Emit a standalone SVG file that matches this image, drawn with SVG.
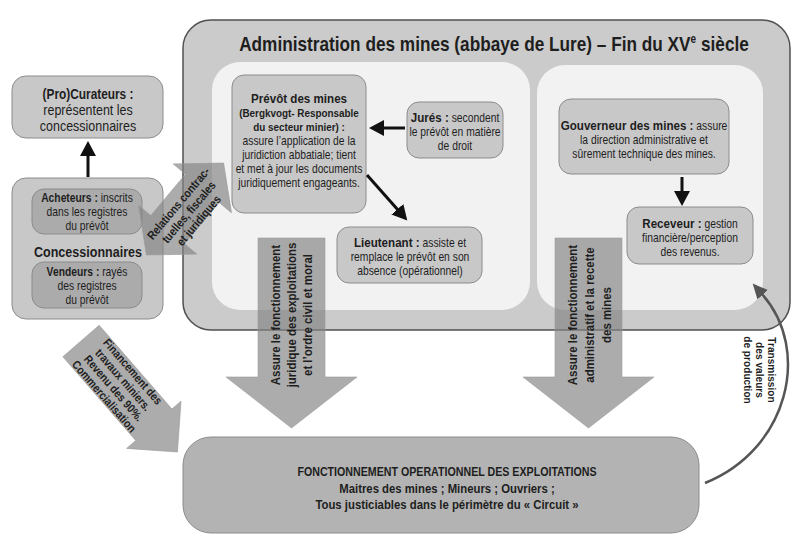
<svg xmlns="http://www.w3.org/2000/svg" width="800" height="550" viewBox="0 0 800 550">
<style>
text{font-family:"Liberation Sans",Arial,sans-serif;fill:#1e1e1e;text-anchor:middle}
.b{font-weight:bold}
.t{font-size:12px}
.h{font-size:13.5px;font-weight:bold}
.s{font-size:11.5px;font-weight:bold}
.node{fill:#c8c8c8;stroke:#8c8c8c;stroke-width:1}
.dark{fill:#ababab;stroke:#8c8c8c;stroke-width:1}
.blk{stroke:#111;stroke-width:3;fill:none}
.barrow{fill:#848484;fill-opacity:0.68;stroke:#9a9a9a;stroke-width:0.6}
.at{font-size:13.3px;font-weight:bold}
</style>
<defs>
<marker id="mb" markerUnits="userSpaceOnUse" markerWidth="16" markerHeight="18" refX="1" refY="8" orient="auto">
<path d="M0,0 L15,8 L0,16 z" fill="#111"/>
</marker>
<marker id="mg" markerUnits="userSpaceOnUse" markerWidth="16" markerHeight="16" refX="1" refY="7" orient="auto">
<path d="M0,0 L15,7 L0,14 z" fill="#555"/>
</marker>
</defs>
<rect width="800" height="550" fill="#ffffff"/>

<g id="administration">
<rect x="183" y="20" width="607" height="310" rx="28" fill="#cbcbcb" stroke="#505050" stroke-width="1.5"/>
<g transform="translate(494,0) scale(0.84,1)">
<text x="0" y="51" class="b" style="font-size:20.5px">Administration des mines (abbaye de Lure) – Fin du XV<tspan dy="-8" style="font-size:12px">e</tspan><tspan dy="8"> siècle</tspan></text>
</g>
<rect x="212" y="62" width="318" height="248" rx="28" fill="#f2f2f2"/>
<rect x="537" y="65" width="226" height="245" rx="28" fill="#f2f2f2"/>
</g>

<g id="curateurs">
<rect x="12" y="76" width="151" height="62" rx="14" class="node" fill="#d0d0d0"/>
<g transform="translate(88,0) scale(0.86,1)">
<text x="0" y="99" style="font-size:13.8px" class="b">(Pro)Curateurs :</text>
<text x="0" y="115" style="font-size:14.5px">représentent les</text>
<text x="0" y="131" style="font-size:14.5px">concessionnaires</text>
</g>
</g>

<g id="concessionnaires">
<rect x="12" y="178" width="151" height="141" rx="14" class="node" fill="#cdcdcd"/>
<g transform="translate(88,0) scale(0.86,1)">
<text x="0" y="257" class="b" style="font-size:14.6px">Concessionnaires</text>
</g>
</g>
<g id="acheteurs">
<rect x="32" y="189" width="110" height="45" rx="12" class="dark"/>
<g transform="translate(87,0) scale(0.86,1)">
<text x="0" y="202" class="t"><tspan class="b">Acheteurs :</tspan> inscrits</text>
<text x="0" y="216" class="t">dans les registres</text>
<text x="0" y="230" class="t">du prévôt</text>
</g>
</g>
<g id="vendeurs">
<rect x="32" y="262" width="110" height="46" rx="12" class="dark"/>
<g transform="translate(87,0) scale(0.86,1)">
<text x="0" y="276" class="t"><tspan class="b">Vendeurs :</tspan> rayés</text>
<text x="0" y="290" class="t">des registres</text>
<text x="0" y="304" class="t">du prévôt</text>
</g>
</g>

<g id="prevot">
<rect x="232" y="75" width="134" height="138" rx="12" class="node"/>
<g transform="translate(299,0) scale(0.86,1)">
<text x="0" y="103" class="h">Prévôt des mines</text>
<text x="0" y="117" class="s">(Bergkvogt- Responsable</text>
<text x="0" y="131" class="s">du secteur minier) :</text>
<text x="0" y="145" class="t">assure l’application de la</text>
<text x="0" y="159" class="t">juridiction abbatiale; tient</text>
<text x="0" y="173" class="t">et met à jour les documents</text>
<text x="0" y="187" class="t">juridiquement engageants.</text>
</g>
</g>

<g id="jures">
<rect x="407" y="102" width="96" height="56" rx="12" class="node"/>
<g transform="translate(455,0) scale(0.86,1)">
<text x="0" y="122" class="t"><tspan class="b" style="font-size:13.5px">Jurés :</tspan> secondent</text>
<text x="0" y="136" class="t">le prévôt en matière</text>
<text x="0" y="150" class="t">de droit</text>
</g>
</g>

<g id="lieutenant">
<rect x="337" y="227" width="145" height="56" rx="12" class="node"/>
<g transform="translate(410,0) scale(0.86,1)">
<text x="0" y="247" class="t"><tspan class="b" style="font-size:13.5px">Lieutenant :</tspan> assiste et</text>
<text x="0" y="261" class="t">remplace le prévôt en son</text>
<text x="0" y="275" class="t">absence (opérationnel)</text>
</g>
</g>

<g id="gouverneur">
<rect x="559" y="99" width="170" height="75" rx="12" class="node"/>
<g transform="translate(644,0) scale(0.86,1)">
<text x="0" y="130" class="t"><tspan class="b" style="font-size:13.5px">Gouverneur des mines :</tspan> assure</text>
<text x="0" y="144" class="t">la direction administrative et</text>
<text x="0" y="158" class="t">sûrement technique des mines.</text>
</g>
</g>

<g id="receveur">
<rect x="627" y="207" width="126" height="57" rx="12" class="node"/>
<g transform="translate(690,0) scale(0.86,1)">
<text x="0" y="228" class="t"><tspan class="b" style="font-size:13.5px">Receveur :</tspan> gestion</text>
<text x="0" y="242" class="t">financière/perception</text>
<text x="0" y="256" class="t">des revenus.</text>
</g>
</g>

<g id="fonctionnement">
<rect x="183" y="437" width="516" height="96" rx="28" fill="#b3b3b3" stroke="#8c8c8c" stroke-width="1"/>
<g transform="translate(447,0) scale(0.86,1)">
<text x="0" y="476" class="b" style="font-size:12.4px">FONCTIONNEMENT OPERATIONNEL DES EXPLOITATIONS</text>
<text x="0" y="493" class="b" style="font-size:13.2px">Maitres des mines ; Mineurs ; Ouvriers ;</text>
<text x="0" y="509" class="b" style="font-size:13.2px">Tous justiciables dans le périmètre du « Circuit »</text>
</g>
</g>

<g id="connectors">
<line x1="88" y1="177" x2="88" y2="155" class="blk" marker-end="url(#mb)"/>
<line x1="405" y1="128" x2="383" y2="128" class="blk" marker-end="url(#mb)"/>
<line x1="367" y1="175" x2="398" y2="210" class="blk" stroke-width="2.5" marker-end="url(#mb)"/>
<line x1="682" y1="177" x2="682" y2="192" class="blk" marker-end="url(#mb)"/>
<path d="M705,483 C788,450 812,350 762,294" fill="none" stroke="#555" stroke-width="2.5" marker-end="url(#mg)"/>

<g id="relations">
<polygon class="barrow" transform="translate(185,209) rotate(-50)" points="60,0 27,-38 27,-22 -27,-22 -27,-38 -60,0 -27,38 -27,22 27,22 27,38"/>
<g transform="translate(185,209) rotate(-50) scale(0.86,1)">
<text x="0" y="-4.5" class="s" style="font-size:12px">Relations contrac-</text>
<text x="0" y="9" class="s" style="font-size:12px">tuelles, fiscales</text>
<text x="0" y="22" class="s" style="font-size:12px">et juridiques</text>
</g>
</g>

<g id="arrow-juridique">
<polygon class="barrow" points="258,238 325,238 325,377 357,377 291.5,428 226,377 258,377"/>
<g transform="translate(291.5,315) rotate(-90) scale(0.86,1)">
<text x="0" y="-12" class="at">Assure le fonctionnement</text>
<text x="0" y="4.5" class="at">juridique des exploitations</text>
<text x="0" y="21" class="at">et l’ordre civil et moral</text>
</g>
</g>

<g id="arrow-administratif">
<polygon class="barrow" points="555,238 622,238 622,377 654,377 588.5,428 523,377 555,377"/>
<g transform="translate(589,315) rotate(-90) scale(0.86,1)">
<text x="0" y="-12" class="at">Assure le fonctionnement</text>
<text x="0" y="5" class="at">administratif et la recette</text>
<text x="0" y="22" class="at">des mines</text>
</g>
</g>

<g id="arrow-financement">
<polygon class="barrow" transform="translate(81,341) rotate(49)" points="0,-24 111,-24 111,-36 147,0 111,36 111,24 0,24"/>
<g transform="translate(81,341) rotate(49)">
<g transform="translate(57,0) scale(0.86,1)">
<text x="0" y="-15" class="s" style="font-size:11.8px">Financement des</text>
<text x="0" y="-2.3" class="s" style="font-size:11.8px">travaux miniers.</text>
<text x="0" y="10.4" class="s" style="font-size:11.8px">Revenu des 90%.</text>
<text x="0" y="23" class="s" style="font-size:11.8px">Commercialisation</text>
</g>
</g>
</g>

<g id="label-transmission" transform="translate(760,370) rotate(90) scale(0.86,1)">
<text x="0" y="-8" class="s" style="font-size:11.8px">Transmission</text>
<text x="0" y="4" class="s" style="font-size:11.8px">des valeurs</text>
<text x="0" y="16" class="s" style="font-size:11.8px">de production</text>
</g>
</g>
</svg>
